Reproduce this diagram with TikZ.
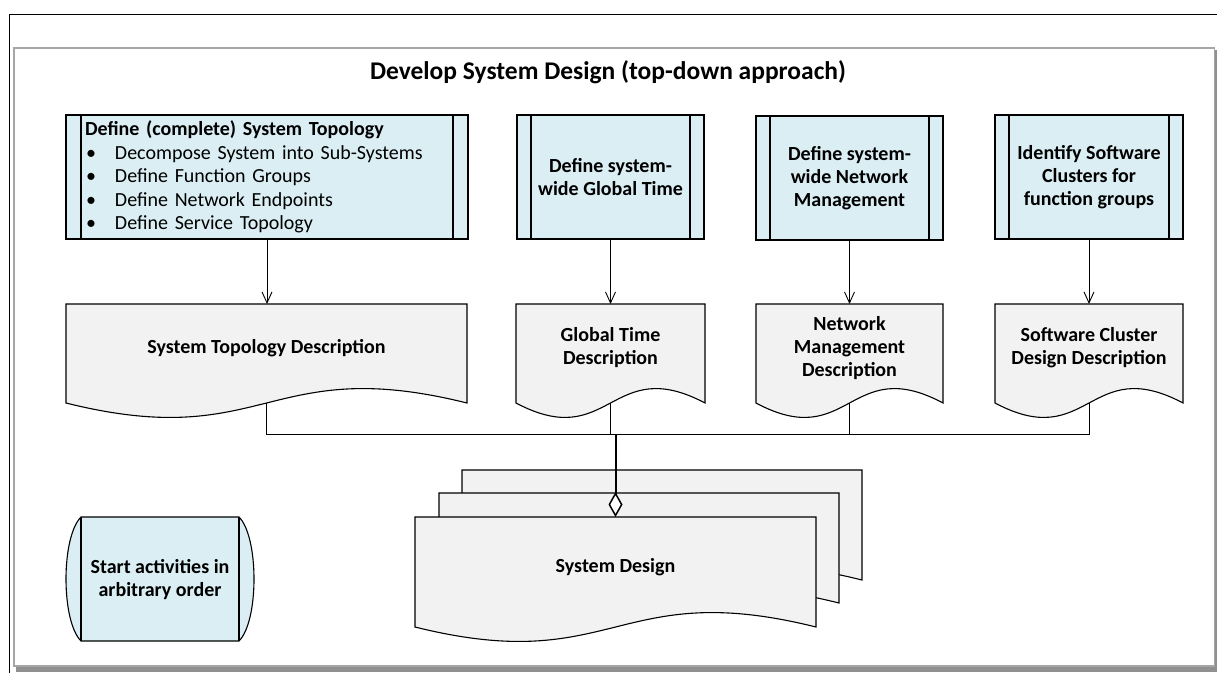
\documentclass[tikz,border=0pt]{standalone}
\usepackage{fontspec}
\setmainfont{Carlito}
\usetikzlibrary{arrows.meta,calc}
\definecolor{procblue}{HTML}{DAEEF3}
\definecolor{docgray}{HTML}{F2F2F2}
\definecolor{framegray}{HTML}{A6A6A6}
\definecolor{shadowgray}{HTML}{909090}
\newcommand{\bitem}{\hspace*{1pt}\makebox[29pt][l]{\textbullet}}
\newcommand{\docpath}[1]{%
  \path[docfill] (#1.north west) -- (#1.north east) -- (#1.south east)
   .. controls ($(#1.south)+(0,-50)$) and ($(#1.south)+(0,50)$) .. (#1.south west) -- cycle;}
\begin{document}
\begin{tikzpicture}[x=1pt,y=-1pt,
  shapeline/.style={draw=black,line width=1.1pt},
  procbox/.style={shapeline,fill=procblue,inner sep=0,outer sep=0,minimum height=124pt,
     font=\fontsize{20}{23}\selectfont\bfseries,align=center},
  geom/.style={inner sep=0,outer sep=0,minimum height=#1},
  lbl/.style={font=\fontsize{20}{23}\selectfont\bfseries,align=center,inner sep=0},
  docfill/.style={shapeline,fill=docgray},
  flow/.style={draw=black,line width=0.9pt,-{Straight Barb[length=11pt,width=10pt,line width=0.9pt]}},
  bus/.style={draw=black,line width=0.9pt},
  agg/.style={draw=black,line width=2pt,-{Diamond[length=25pt,width=14pt,fill=white,line width=1.5pt]}}
]
\useasboundingbox (0,0) rectangle (1217,673);
% frame
\draw[black,line width=1pt] (9,673) -- (9,14) -- (1217,14);
\fill[shadowgray] (16,666) rectangle (1217,672);
\fill[shadowgray] (1214,50) rectangle (1217,672);
\draw[framegray,line width=1.2pt] (14,48) rectangle (1214.5,666);

% title
\node[font=\fontsize{25.5}{30}\selectfont\bfseries,inner sep=0] (title) at (608,72) {Develop System Design (top-down approach)};

% process boxes
\node[procbox,minimum width=402pt,text width=364pt,align=left,font=\fontsize{20}{23.5}\selectfont] (b1) at (267,177)
 {\textbf{Define (complete) System Topology}\\
  \bitem Decompose System into Sub-Systems\\
  \bitem Define Function Groups\\
  \bitem Define Network Endpoints\\
  \bitem Define Service Topology};
\node[procbox,minimum width=187pt] (b2) at (610.5,177) {Define system-\\wide Global Time};
\node[procbox,minimum width=187pt] (b3) at (849.5,178) {Define system-\\wide Network\\Management};
\node[procbox,minimum width=188pt] (b4) at (1089,177) {Identify Software\\Clusters for\\function groups};
\foreach \b/\s in {b1/15,b2/14,b3/14,b4/14}{
  \draw[shapeline] ([xshift=\s pt]\b.north west) -- ([xshift=\s pt]\b.south west);
  \draw[shapeline] ([xshift=-\s pt]\b.north east) -- ([xshift=-\s pt]\b.south east);
}

% documents
\node[geom=99pt,minimum width=401pt] (d1) at (266.5,353.5) {};
\docpath{d1}
\node[lbl] (d1t) at ($(d1.center)+(0,-5.5)$) {System Topology Description};
\node[geom=99pt,minimum width=189pt] (d2) at (610.5,353.5) {};
\docpath{d2}
\node[lbl] (d2t) at ($(d2.center)+(0,-5.5)$) {Global Time\\Description};
\node[geom=99pt,minimum width=187pt] (d3) at (849.5,353.5) {};
\docpath{d3}
\node[lbl] (d3t) at ($(d3.center)+(0,-5.5)$) {Network\\Management\\Description};
\node[geom=99pt,minimum width=188pt] (d4) at (1089,353.5) {};
\docpath{d4}
\node[lbl] (d4t) at ($(d4.center)+(0,-5.5)$) {Software Cluster\\Design Description};

% stacked system design documents
\node[geom=110pt,minimum width=400pt] (ds3) at (662,525) {};
\docpath{ds3}
\node[geom=110pt,minimum width=400pt] (ds2) at (639,548) {};
\docpath{ds2}
\node[geom=110pt,minimum width=401pt] (ds1) at (615.5,572) {};
\docpath{ds1}
\node[lbl] (dst) at ($(ds1.center)+(0,-5)$) {System Design};

% start node
\path[shapeline,fill=procblue] (81,517) -- (239,517) .. controls (259,537) and (259,621) .. (239,641)
  -- (81,641) .. controls (61,621) and (61,537) .. (81,517) -- cycle;
\draw[shapeline] (81,517) -- (81,641) (239,517) -- (239,641);
\node[lbl] (s) at (160,580) {Start activities in\\arbitrary order};

% connectors
\foreach \i in {1,2,3,4}{
  \draw[flow] (b\i.south) -- (b\i.south |- d\i.north);
}
\coordinate (j) at (615.5,434);
\draw[bus] (d1.south) |- (j);
\draw[bus] (d4.south) |- (j);
\draw[bus] (d2.south) -- (d2.south |- j);
\draw[bus] (d3.south) -- (d3.south |- j);
\draw[agg] (j) -- (ds1.north);
\end{tikzpicture}
\end{document}
